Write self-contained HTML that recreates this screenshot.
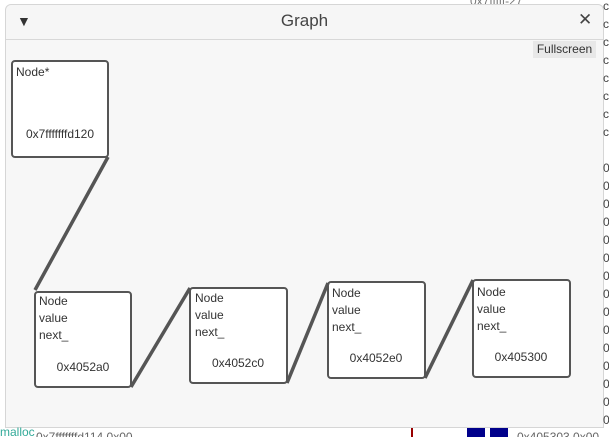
<!DOCTYPE html>
<html><head><meta charset="utf-8"><style>
body{margin:0;width:609px;height:437px;overflow:hidden;background:#fff;font-family:"Liberation Sans",sans-serif;position:relative}
.win{position:absolute;left:5px;top:4px;width:597px;height:422px;background:#f7f7f7;border:1px solid #d6d6d6;border-radius:6px 6px 0 0}
.title{position:absolute;left:0;top:0;width:597px;height:34px;border-bottom:1px solid #d8d8d8;background:#f6f6f6;border-radius:6px 6px 0 0}
.t{position:absolute;font-size:12px;color:#333}
.side{position:absolute;left:603px;font-size:12px;color:#444}
</style></head><body>
<div class="t" style="left:470px;top:-6px;color:#777">0x7fffff-27</div>
<div class="win">
 <div class="title">
  <div style="position:absolute;left:11px;top:8px;font-size:14px;color:#333">▼</div>
  <div style="position:absolute;left:0;width:597px;top:6px;text-align:center;font-size:17px;color:#444">Graph</div>
  <div style="position:absolute;left:572px;top:5px;font-size:17px;color:#444">✕</div>
 </div>
 <div style="position:absolute;left:527px;top:36px;width:63px;height:17px;background:#e8e8e8;font-size:12px;color:#333;text-align:center;line-height:17px">Fullscreen</div>
</div>
<svg width="609" height="437" style="position:absolute;left:0;top:0" font-family="Liberation Sans, sans-serif" font-size="12" fill="#333">
<g stroke="#555" stroke-width="2" fill="#fff">
<rect x="12" y="61" width="96" height="96" rx="3"/>
<rect x="35" y="292" width="96" height="95" rx="3"/>
<rect x="190" y="288" width="97" height="95" rx="3"/>
<rect x="328" y="282" width="97" height="96" rx="3"/>
<rect x="473" y="280" width="97" height="97" rx="3"/>
</g>
<g stroke="#555" stroke-width="3.5">
<line x1="108" y1="157" x2="35" y2="290"/>
<line x1="131" y1="387" x2="190" y2="288"/>
<line x1="287" y1="383" x2="328" y2="283"/>
<line x1="425" y1="378" x2="473" y2="280"/>
</g>
<text x="16" y="76">Node*</text>
<text x="60" y="138" text-anchor="middle">0x7fffffffd120</text>
<text x="39" y="305">Node</text><text x="39" y="322">value</text><text x="39" y="339">next_</text><text x="83" y="371" text-anchor="middle">0x4052a0</text>
<text x="195" y="302">Node</text><text x="195" y="319">value</text><text x="195" y="336">next_</text><text x="238" y="367" text-anchor="middle">0x4052c0</text>
<text x="332" y="297">Node</text><text x="332" y="314">value</text><text x="332" y="331">next_</text><text x="376" y="362" text-anchor="middle">0x4052e0</text>
<text x="477" y="296">Node</text><text x="477" y="313">value</text><text x="477" y="330">next_</text><text x="521" y="361" text-anchor="middle">0x405300</text>
<g fill="#444">
<text x="603" y="10">c</text><text x="603" y="28">c</text><text x="603" y="46">c</text><text x="603" y="64">c</text><text x="603" y="82">c</text><text x="603" y="100">c</text><text x="603" y="118">c</text><text x="603" y="136">c</text>
<text x="603" y="172">0</text><text x="603" y="190">0</text><text x="603" y="208">0</text><text x="603" y="226">0</text><text x="603" y="244">0</text><text x="603" y="262">0</text><text x="603" y="280">0</text><text x="603" y="298">0</text><text x="603" y="316">0</text><text x="603" y="334">0</text><text x="603" y="352">0</text><text x="603" y="370">0</text><text x="603" y="388">0</text><text x="603" y="406">0</text><text x="603" y="424">0</text>
</g>
<text x="0" y="436" fill="#3a9">malloc</text>
<text x="36" y="441" fill="#666">0x7fffffffd114   0x00</text>
<rect x="411" y="428" width="2" height="9" fill="#900"/>
<rect x="467" y="428" width="18" height="9" fill="#00008b"/>
<rect x="490" y="428" width="18" height="9" fill="#00008b"/>
<text x="517" y="441" fill="#666">0x405303 0x00</text>
</svg>
</body></html>
